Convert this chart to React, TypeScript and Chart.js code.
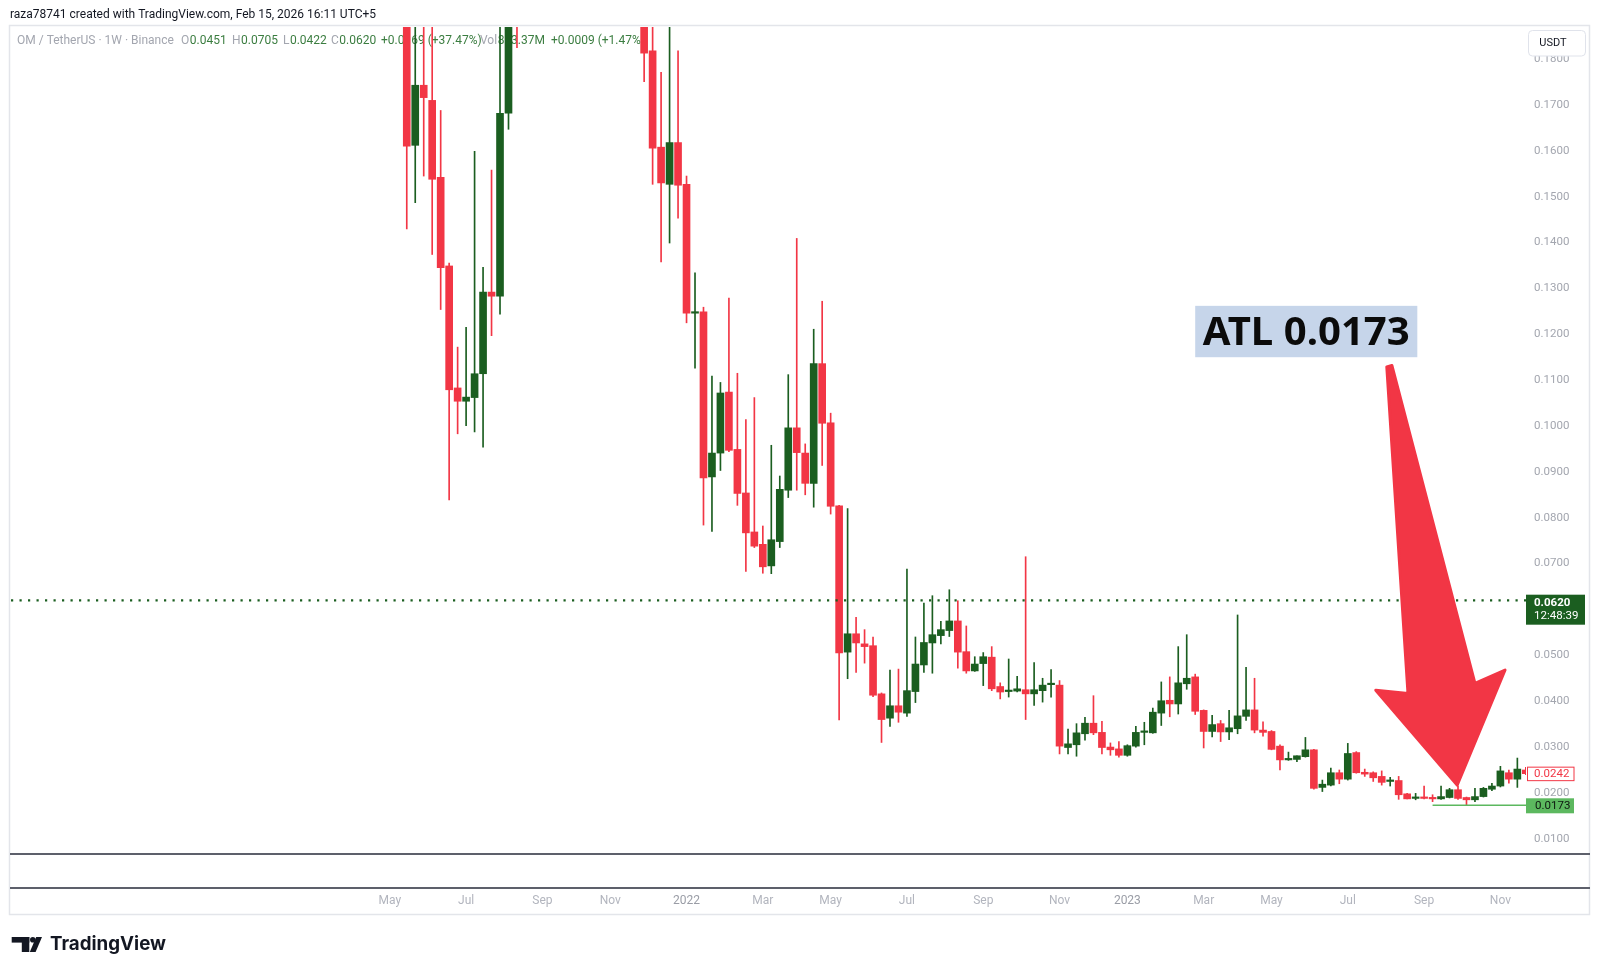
import React, { useEffect, useRef } from "react";
import { Chart, registerables } from "chart.js";

Chart.register(...registerables);

// Weekly OM / TetherUS candles (index 0 = week of 17 May 2021)
const opens = [
  0.215, 0.1612, 0.1743, 0.171, 0.1542, 0.1349, 0.1083, 0.1054, 0.1062, 0.1114,
  0.1292, 0.1283, 0.1682, 0.225, 0.2, 0.221, 0.255, 0.287, 0.3, 0.272,
  0.251, 0.276, 0.262, 0.243, 0.255, 0.231, 0.236, 0.214, 0.205, 0.1818,
  0.1608, 0.1527, 0.1618, 0.1527, 0.1246, 0.1249, 0.0889, 0.0941, 0.1074, 0.0949,
  0.0854, 0.0769, 0.0742, 0.0695, 0.0748, 0.086, 0.0996, 0.0941, 0.0875, 0.1136,
  0.1007, 0.0826, 0.0507, 0.0547, 0.0525, 0.0521, 0.0416, 0.0363, 0.039, 0.0374,
  0.0421, 0.0479, 0.0527, 0.0543, 0.0554, 0.0575, 0.0508, 0.0466, 0.0482, 0.0496,
  0.0432, 0.0421, 0.0422, 0.0425, 0.0416, 0.0423, 0.0436, 0.0435, 0.0299, 0.0305,
  0.0329, 0.0352, 0.0332, 0.03, 0.0296, 0.0282, 0.0302, 0.0332, 0.0331, 0.0374,
  0.0402, 0.0394, 0.0438, 0.0453, 0.038, 0.0334, 0.0351, 0.0333, 0.034, 0.0367,
  0.0381, 0.0337, 0.0334, 0.0302, 0.0272, 0.0273, 0.0279, 0.0294, 0.0212, 0.0217,
  0.0244, 0.023, 0.0288, 0.0245, 0.0244, 0.0236, 0.0225, 0.0227, 0.0198, 0.0188,
  0.019, 0.0189, 0.0187, 0.019, 0.0207, 0.019, 0.0185, 0.0192, 0.0208, 0.0215,
  0.0244, 0.023, 0.025,
];
const highs = [
  0.232, 0.198, 0.192, 0.19, 0.1688, 0.1355, 0.1172, 0.1215, 0.1599, 0.1346,
  0.1558, 0.195, 0.215, 0.24, 0.228, 0.262, 0.3, 0.33, 0.318, 0.29,
  0.285, 0.296, 0.272, 0.262, 0.268, 0.25, 0.245, 0.225, 0.212, 0.192,
  0.1771, 0.195, 0.1818, 0.1545, 0.1334, 0.1259, 0.1109, 0.1095, 0.1279, 0.1115,
  0.1014, 0.1062, 0.0782, 0.0958, 0.0891, 0.1112, 0.1409, 0.0961, 0.1211, 0.1272,
  0.1028, 0.0827, 0.082, 0.0583, 0.0556, 0.054, 0.0418, 0.0468, 0.047, 0.0688,
  0.054, 0.0614, 0.063, 0.0574, 0.0643, 0.0619, 0.0564, 0.0497, 0.0506, 0.0519,
  0.044, 0.0492, 0.0454, 0.0715, 0.0484, 0.045, 0.0469, 0.0445, 0.0339, 0.0351,
  0.0365, 0.0412, 0.0356, 0.0309, 0.0312, 0.0305, 0.0345, 0.0354, 0.0385, 0.0442,
  0.0453, 0.0519, 0.0545, 0.0459, 0.0381, 0.0369, 0.0358, 0.038, 0.0588, 0.0474,
  0.045, 0.0355, 0.0336, 0.0305, 0.0289, 0.0281, 0.0321, 0.0295, 0.0228, 0.0254,
  0.025, 0.0308, 0.029, 0.0252, 0.0246, 0.0248, 0.0234, 0.0236, 0.0199, 0.0199,
  0.0215, 0.0196, 0.0215, 0.021, 0.0215, 0.0191, 0.021, 0.0212, 0.0221, 0.0258,
  0.025, 0.0276, 0.0256,
];
const lows = [
  0.143, 0.1487, 0.1545, 0.1374, 0.1254, 0.0839, 0.0983, 0.1001, 0.0987, 0.0954,
  0.1197, 0.1244, 0.1647, 0.1825, 0.192, 0.214, 0.245, 0.27, 0.262, 0.24,
  0.243, 0.252, 0.236, 0.228, 0.22, 0.213, 0.205, 0.196, 0.1751, 0.1527,
  0.1358, 0.1399, 0.1453, 0.1225, 0.1126, 0.0784, 0.077, 0.0903, 0.0944, 0.0827,
  0.0683, 0.0735, 0.0679, 0.0678, 0.0735, 0.0844, 0.086, 0.085, 0.0823, 0.0914,
  0.0808, 0.0359, 0.0449, 0.0463, 0.0483, 0.041, 0.031, 0.0345, 0.0354, 0.0367,
  0.0397, 0.0463, 0.0461, 0.0525, 0.0541, 0.0472, 0.0461, 0.0465, 0.0434, 0.0423,
  0.0405, 0.0409, 0.042, 0.036, 0.0391, 0.0398, 0.0409, 0.0285, 0.0285, 0.028,
  0.0315, 0.0327, 0.0285, 0.0282, 0.0278, 0.028, 0.03, 0.0305, 0.033, 0.0347,
  0.0366, 0.0372, 0.0426, 0.0371, 0.0298, 0.0322, 0.0312, 0.0316, 0.0329, 0.0358,
  0.0331, 0.0324, 0.0294, 0.025, 0.0271, 0.0268, 0.0278, 0.0208, 0.0203, 0.0215,
  0.022, 0.0228, 0.0243, 0.0236, 0.0225, 0.0217, 0.0215, 0.0186, 0.0187, 0.0185,
  0.0187, 0.0181, 0.0186, 0.0189, 0.0186, 0.0173, 0.0181, 0.0191, 0.0205, 0.0213,
  0.0221, 0.0212, 0.024,
];
const closes = [
  0.161, 0.1743, 0.1716, 0.1538, 0.1345, 0.1079, 0.1054, 0.1063, 0.1114, 0.1292,
  0.1283, 0.1682, 0.205, 0.2, 0.221, 0.255, 0.287, 0.3, 0.272, 0.251,
  0.276, 0.262, 0.243, 0.255, 0.231, 0.236, 0.214, 0.205, 0.1813, 0.1606,
  0.153, 0.1618, 0.1525, 0.1246, 0.1248, 0.0887, 0.0941, 0.1072, 0.0947, 0.0853,
  0.0767, 0.0738, 0.0693, 0.0752, 0.0862, 0.0996, 0.0942, 0.0875, 0.1136, 0.1006,
  0.0825, 0.0505, 0.0547, 0.0527, 0.0519, 0.0413, 0.036, 0.039, 0.0376, 0.0423,
  0.0481, 0.0528, 0.0545, 0.0556, 0.0575, 0.0507, 0.0466, 0.0481, 0.0497, 0.0427,
  0.042, 0.0422, 0.0427, 0.0416, 0.0425, 0.0435, 0.0437, 0.0302, 0.0307, 0.0331,
  0.0352, 0.0331, 0.0299, 0.0294, 0.0282, 0.0303, 0.0332, 0.0333, 0.0376, 0.0401,
  0.0394, 0.044, 0.045, 0.0378, 0.0334, 0.0349, 0.0333, 0.0342, 0.0368, 0.0381,
  0.0337, 0.0332, 0.0295, 0.0272, 0.0274, 0.0281, 0.0294, 0.021, 0.0219, 0.0244,
  0.023, 0.0286, 0.0244, 0.0241, 0.0233, 0.0223, 0.0226, 0.0196, 0.0187, 0.019,
  0.0188, 0.0187, 0.0192, 0.0207, 0.0188, 0.0185, 0.0192, 0.021, 0.0215, 0.0248,
  0.023, 0.0252, 0.0242,
];

// Time axis (week index of first bar of the month) and labels
const tickWeeks = [-2, 7, 16, 24, 33, 42, 50, 59, 68, 77, 85, 94, 102, 111, 120, 129];
const tickLabels = ["May", "Jul", "Sep", "Nov", "2022", "Mar", "May", "Jul", "Sep", "Nov", "2023", "Mar", "May", "Jul", "Sep", "Nov"];
const priceTicks = [0.01, 0.02, 0.03, 0.04, 0.05, 0.06, 0.07, 0.08, 0.09, 0.1, 0.11, 0.12, 0.13, 0.14, 0.15, 0.16, 0.17, 0.18];

const lastPrice = 0.062;
const lastPriceTimer = "12:48:39";
const barClose = 0.0242;
const atlValue = 0.0173;
const atlStartWeek = 121;
const atlLabel = "ATL 0.0173";
// Annotation anchors in (week, price)
const atlBox = { x0: 93.0, x1: 119.2, yTop: 0.1262, yBot: 0.115 };
const arrowPoints: [number, number][] = [
  [115.6, 0.1129],
  [116.2, 0.1132],
  [126.0, 0.0439],
  [129.55, 0.0468],
  [123.9, 0.0217],
  [114.3, 0.0424],
  [118.1, 0.0417],
];

const headerText = "raza78741 created with TradingView.com, Feb 15, 2026 16:11 UTC+5";
const legendParts: [string, string, number][] = [
  ["OM / TetherUS · 1W · Binance", "g", 17],
  ["O", "g", 181],
  ["0.0451", "v", 0],
  ["H", "g", 232],
  ["0.0705", "v", 0],
  ["L", "g", 283],
  ["0.0422", "v", 0],
  ["C", "g", 331],
  ["0.0620", "v", 0],
  ["+0.0169 (+37.47%)", "v", 381],
  ["Vol", "g", 480],
  ["823.37M", "v", 0],
  ["+0.0009 (+1.47%)", "v", 551],
];

const UP = "#1b5e20";
const DOWN = "#f23645";
const FONT = "Roboto, 'Noto Sans', sans-serif";

export default function App() {
  const ref = useRef<HTMLCanvasElement | null>(null);

  useEffect(() => {
    const canvas = ref.current;
    if (!canvas) return;
    const idx = opens.map((_, i) => i);
    const colors = idx.map((i) => (closes[i] >= opens[i] ? UP : DOWN));

    const decor = {
      id: "decor",
      beforeDraw(chart: any) {
        const ctx = chart.ctx;
        ctx.save();
        ctx.fillStyle = "#ffffff";
        ctx.fillRect(0, 0, chart.width, chart.height);
        ctx.fillStyle = "#131722";
        ctx.font = `12px ${FONT}`;
        ctx.textBaseline = "middle";
        ctx.textAlign = "left";
        ctx.fillText(headerText, 10, 14.5);
        ctx.restore();
      },
      beforeDatasetsDraw(chart: any) {
        const ctx = chart.ctx;
        ctx.save();
        ctx.font = `12px ${FONT}`;
        ctx.textBaseline = "middle";
        ctx.textAlign = "left";
        let x = 0;
        for (const [t, kind, px] of legendParts) {
          if (px) x = px;
          ctx.fillStyle = kind === "g" ? "#a3a6af" : "#3b7d40";
          ctx.fillText(t, x, 41);
          x += ctx.measureText(t).width + (kind === "g" ? 0.5 : 4);
        }
        ctx.restore();
      },
      afterDatasetsDraw(chart: any) {
        const ctx = chart.ctx;
        const xs = chart.scales.x;
        const ys = chart.scales.y;
        const area = chart.chartArea;
        ctx.save();
        ctx.beginPath();
        ctx.rect(area.left, area.top, area.right - area.left, area.bottom - area.top);
        ctx.clip();
        // last price dotted line
        const yl = ys.getPixelForValue(lastPrice);
        ctx.strokeStyle = UP;
        ctx.lineWidth = 2.2;
        ctx.setLineDash([2.2, 6.3]);
        ctx.beginPath();
        ctx.moveTo(area.left + 1, yl);
        ctx.lineTo(area.right, yl);
        ctx.stroke();
        ctx.setLineDash([]);
        // ATL line
        const ya = ys.getPixelForValue(atlValue);
        ctx.strokeStyle = "#5cb85f";
        ctx.lineWidth = 1.5;
        ctx.beginPath();
        ctx.moveTo(xs.getPixelForValue(atlStartWeek), ya);
        ctx.lineTo(area.right, ya);
        ctx.stroke();
        // arrow
        ctx.fillStyle = "#f23645";
        ctx.strokeStyle = "#f23645";
        ctx.lineWidth = 3;
        ctx.lineJoin = "round";
        ctx.beginPath();
        arrowPoints.forEach(([w, v], k) => {
          const px = xs.getPixelForValue(w);
          const py = ys.getPixelForValue(v);
          if (k === 0) ctx.moveTo(px, py);
          else ctx.lineTo(px, py);
        });
        ctx.closePath();
        ctx.fill();
        ctx.stroke();
        // ATL label box
        const bx0 = xs.getPixelForValue(atlBox.x0);
        const bx1 = xs.getPixelForValue(atlBox.x1);
        const by0 = ys.getPixelForValue(atlBox.yTop);
        const by1 = ys.getPixelForValue(atlBox.yBot);
        ctx.fillStyle = "#c6d5ea";
        ctx.fillRect(bx0, by0, bx1 - bx0, by1 - by0);
        ctx.fillStyle = "#0b0b0b";
        ctx.font = `bold 39px 'Noto Sans', 'Open Sans', sans-serif`;
        ctx.textBaseline = "alphabetic";
        ctx.textAlign = "left";
        const tw = ctx.measureText(atlLabel).width;
        const target = 207;
        const cx = (bx0 + bx1) / 2;
        ctx.save();
        ctx.translate(cx - target / 2, (by0 + by1) / 2 + 13.8);
        ctx.scale(target / tw, 1);
        ctx.fillText(atlLabel, 0, 0);
        ctx.restore();
        ctx.restore();
      },
      afterDraw(chart: any) {
        const ctx = chart.ctx;
        const ys = chart.scales.y;
        const area = chart.chartArea;
        ctx.save();
        // frame
        ctx.strokeStyle = "#e3e5ea";
        ctx.lineWidth = 1.5;
        ctx.strokeRect(9.5, 25.5, 1580, 889);
        // pane separators
        ctx.fillStyle = "#5d606b";
        ctx.fillRect(10, area.bottom, 1580, 2);
        ctx.fillRect(10, 887, 1580, 2);
        ctx.font = `11.5px ${FONT}`;
        ctx.textBaseline = "middle";
        ctx.textAlign = "left";
        // last price box
        const yl = ys.getPixelForValue(lastPrice);
        ctx.fillStyle = UP;
        ctx.fillRect(1526, yl - 5.6, 59, 30);
        ctx.fillStyle = "#ffffff";
        ctx.font = `bold 11.5px ${FONT}`;
        ctx.fillText(lastPrice.toFixed(4), 1534, yl + 2.5);
        ctx.font = `11.5px ${FONT}`;
        ctx.fillText(lastPriceTimer, 1534, yl + 16);
        // bar close box
        const yc = ys.getPixelForValue(barClose);
        ctx.fillStyle = "#ffffff";
        ctx.fillRect(1527, yc - 6.5, 47, 13.5);
        ctx.strokeStyle = DOWN;
        ctx.lineWidth = 1;
        ctx.strokeRect(1527.5, yc - 6.5, 46.5, 13.5);
        ctx.fillStyle = DOWN;
        ctx.fillText(barClose.toFixed(4), 1534, yc + 0.5);
        // ATL box
        const ya = ys.getPixelForValue(atlValue);
        ctx.fillStyle = "#5cb85f";
        ctx.fillRect(1526, ya - 7, 48, 15);
        ctx.fillStyle = "#0e1a10";
        ctx.fillText(atlValue.toFixed(4), 1535, ya + 0.8);
        // USDT box
        ctx.fillStyle = "#ffffff";
        ctx.strokeStyle = "#e0e3eb";
        ctx.lineWidth = 1;
        ctx.beginPath();
        (ctx as any).roundRect(1528.5, 30.5, 57, 25.5, 4);
        ctx.fill();
        ctx.stroke();
        ctx.fillStyle = "#131722";
        ctx.font = `11px ${FONT}`;
        ctx.textAlign = "center";
        ctx.fillText("USDT", 1553, 43.5);
        // TradingView logo
        ctx.fillStyle = "#131722";
        ctx.fillRect(11.7, 937, 17.6, 5.6);
        ctx.fillRect(21.8, 937, 7.5, 15);
        ctx.beginPath();
        ctx.arc(32.8, 939.8, 2.8, 0, Math.PI * 2);
        ctx.fill();
        ctx.beginPath();
        ctx.moveTo(36.2, 937);
        ctx.lineTo(42, 937);
        ctx.lineTo(35.6, 952);
        ctx.lineTo(29.8, 952);
        ctx.closePath();
        ctx.fill();
        ctx.font = `bold 19px Inter, Roboto, sans-serif`;
        ctx.textAlign = "left";
        ctx.textBaseline = "middle";
        const lw = ctx.measureText("TradingView").width;
        ctx.save();
        ctx.translate(50, 944.5);
        ctx.scale(116 / lw, 1);
        ctx.fillText("TradingView", 0, 0);
        ctx.restore();
        ctx.restore();
      },
    };

    const chart = new Chart(canvas, {
      type: "bar",
      data: {
        datasets: [
          {
            label: "body",
            data: idx.map((i) => ({ x: i, y: [opens[i], closes[i]] })) as any,
            backgroundColor: colors,
            borderWidth: 0,
            barThickness: 7,
            minBarLength: 1.5,
            grouped: false,
            clip: 0 as any,
            order: 0,
          },
          {
            label: "wick",
            data: idx.map((i) => ({ x: i, y: [lows[i], highs[i]] })) as any,
            backgroundColor: colors,
            borderWidth: 0,
            barThickness: 1,
            grouped: false,
            clip: 0 as any,
            order: 1,
          },
        ],
      },
      options: {
        responsive: false,
        animation: false,
        devicePixelRatio: 1,
        layout: { padding: { left: 10, right: 11, top: 27, bottom: 60 } },
        plugins: {
          legend: { display: false },
          tooltip: { enabled: false },
        },
        events: [],
        scales: {
          x: {
            type: "linear",
            min: -46.8,
            max: 132.02,
            offset: false,
            grid: { display: false, offset: false, drawTicks: false },
            border: { display: false },
            afterBuildTicks: (scale: any) => {
              scale.ticks = tickWeeks.map((v) => ({ value: v }));
            },
            afterFit: (scale: any) => {
              scale.height = 61;
            },
            ticks: {
              autoSkip: false,
              maxRotation: 0,
              padding: 40.5,
              font: { family: "Roboto", size: 12 },
              color: (c: any) => {
                const k = tickWeeks.indexOf(c.tick ? c.tick.value : NaN);
                return k >= 0 && /^\d/.test(tickLabels[k]) ? "#9a9da6" : "#b2b5be";
              },
              callback: (v: any) => {
                const k = tickWeeks.indexOf(Number(v));
                return k >= 0 ? tickLabels[k] : "";
              },
            },
          },
          y: {
            type: "linear",
            position: "right",
            min: 0.0069,
            max: 0.187,
            grid: { display: false, drawTicks: false },
            border: { display: false },
            afterBuildTicks: (scale: any) => {
              scale.ticks = priceTicks.map((v) => ({ value: v }));
            },
            afterFit: (scale: any) => {
              scale.width = 63;
            },
            ticks: {
              padding: 8,
              font: { family: "Roboto", size: 11.5 },
              color: "#a3a6af",
              callback: (v: any) => Number(v).toFixed(4),
            },
          },
        },
      },
      plugins: [decor],
    });

    return () => chart.destroy();
  }, []);

  return (
    <div style={{ position: "fixed", left: 0, top: 0, width: 1600, height: 974, background: "#fff" }}>
      <canvas ref={ref} width={1600} height={974} style={{ display: "block", width: 1600, height: 974 }} />
    </div>
  );
}
